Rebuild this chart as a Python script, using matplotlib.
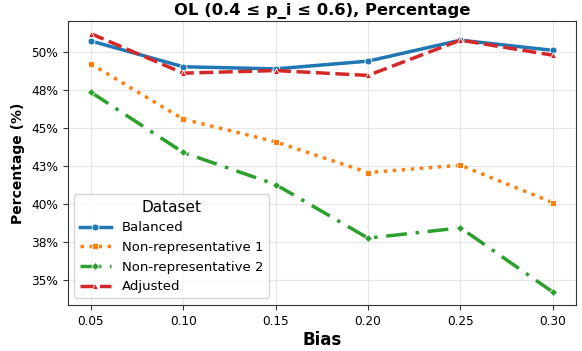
import matplotlib
matplotlib.use('Agg')
import matplotlib.pyplot as plt
from matplotlib.ticker import FuncFormatter, MultipleLocator
import numpy as np

bias = [0.05, 0.10, 0.15, 0.20, 0.25, 0.30]
balanced = [50.72, 49.02, 48.88, 49.39, 50.77, 50.10]
nonrep1 = [49.21, 45.57, 44.08, 42.06, 42.54, 40.08]
nonrep2 = [47.35, 43.38, 41.27, 37.74, 38.42, 34.19]
adjusted = [51.20, 48.60, 48.77, 48.45, 50.77, 49.78]

series = [
    ('Balanced', balanced, '#1f77b4', 'o', '-'),
    ('Non-representative 1', nonrep1, '#ff7f0e', 's', (0, (1, 1.6))),
    ('Non-representative 2', nonrep2, '#2ca02c', 'D', (0, (6, 2.5, 1, 2.5))),
    ('Adjusted', adjusted, '#d62728', '^', (0, (4, 1.6))),
]

fig = plt.figure(figsize=(5.82, 3.51), dpi=100)
ax = fig.add_axes([0.1163, 0.131, 0.8734, 0.810])

for name, vals, col, mk, ls in series:
    ax.plot(bias, vals, color=col, marker=mk, linestyle=ls, linewidth=2.5,
            markersize=5 if mk != 'D' else 4.5, markeredgecolor='white',
            markeredgewidth=0.6, label=name)

ax.set_xticks(bias)
ax.set_xticklabels([f'{b:.2f}' for b in bias])
ax.yaxis.set_major_locator(MultipleLocator(2.5))
# labels round half up (37.5 -> 38%)
ax.yaxis.set_major_formatter(FuncFormatter(lambda v, p: f'{int(np.floor(v + 0.5))}%'))
ax.tick_params(labelsize=8.7, length=3.5, color='#333333')
ax.grid(True, color='#e6e6e6', linewidth=0.8)
for s in ax.spines.values():
    s.set_color('#333333')

ax.set_title('OL (0.4 ≤ p_i ≤ 0.6), Percentage', fontsize=11.8, fontweight='bold', pad=4)
ax.set_xlabel('Bias', fontsize=12, fontweight='bold', labelpad=2)
ax.set_ylabel('Percentage (%)', fontsize=10, fontweight='bold', labelpad=4)

leg = ax.legend(title='Dataset', loc='lower left', fontsize=9.5, title_fontsize=11,
                handlelength=2.4, borderpad=0.4, labelspacing=0.5,
                bbox_to_anchor=(0.0, 0.0))
leg.get_frame().set_edgecolor('#cccccc')

fig.savefig('out.png', dpi=100)
